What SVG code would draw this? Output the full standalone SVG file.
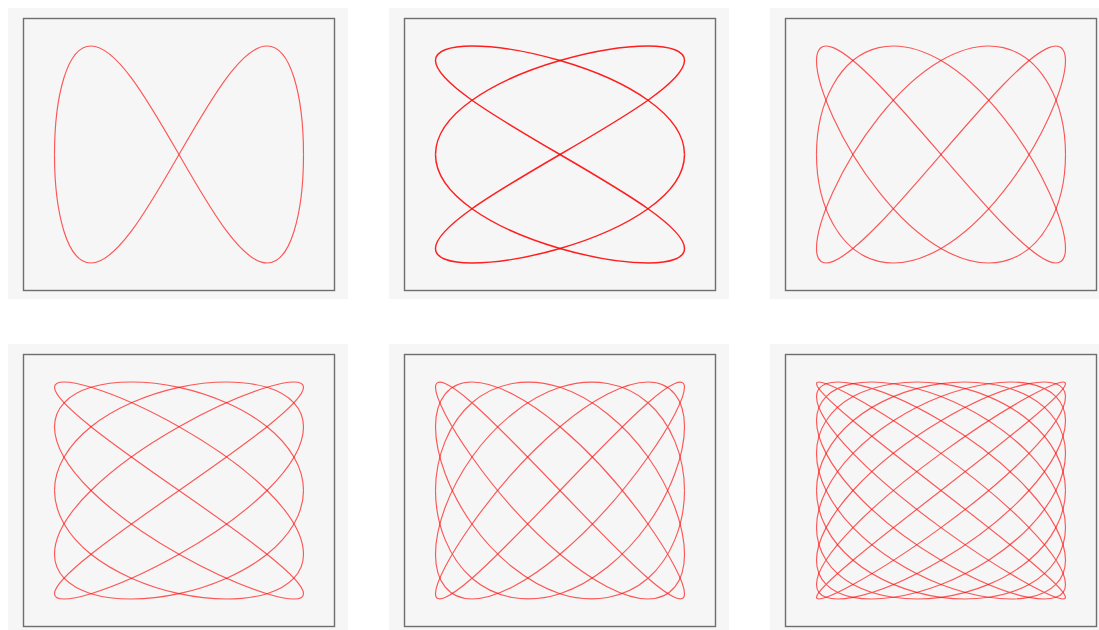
<svg xmlns="http://www.w3.org/2000/svg" xmlns:xlink="http://www.w3.org/1999/xlink" width="1099" height="630" viewBox="0 0 1099 630">
<style>
.bg{fill:#f6f6f6}
.frame{fill:#f6f6f6;stroke:#6e6e6e;stroke-width:1.4}
.curve{fill:none;stroke:#ff0000;stroke-opacity:0.65;stroke-width:1.15;vector-effect:non-scaling-stroke;stroke-linejoin:round}
.curve.thick{stroke-opacity:0.88;stroke-width:1.45}
</style>
<defs>
<path id="c12" class="curve" d="M0,0 C131,262 262,522 383,707 C504,892 615,1000 707,1000 C800,1000 874,892 924,707 C974,522 1000,262 1000,0"/>
<path id="c32" class="curve thick" d="M0,0 C262,175 522,349 707,500 C892,651 1000,779 1000,866 C1000,953 892,1000 707,1000 C522,1000 262,953 0,866 C-262,779 -522,651 -707,500 C-892,349 -1000,175 -1000,0"/>
<path id="c34" class="curve" d="M0,0 C175,233 349,465 500,643 C651,821 779,944 866,985 C953,1025 1000,982 1000,866 C1000,750 953,561 866,342 C779,123 651,-123 500,-342 C349,-561 175,-750 0,-866 C-175,-982 -349,-1025 -500,-985 C-651,-944 -779,-821 -866,-643 C-953,-465 -1000,-233 -1000,0"/>
<path id="c54" class="curve" d="M0,0 C262,209 522,418 707,588 C892,757 1000,886 1000,951 C1000,1016 892,1016 707,951 C522,886 262,757 0,588 C-262,418 -522,209 -707,0 C-892,-209 -1000,-418 -1000,-588 C-1000,-757 -892,-886 -707,-951 C-522,-1016 -262,-1016 0,-951 C262,-886 522,-757 707,-588 C892,-418 1000,-209 1000,0"/>
<path id="c56" class="curve" d="M0,0 C262,314 522,624 707,809 C892,994 1000,1048 1000,951 C1000,854 892,608 707,309 C522,10 262,-334 0,-588 C-262,-842 -522,-1000 -707,-1000 C-892,-1000 -1000,-842 -1000,-588 C-1000,-334 -892,10 -707,309 C-522,608 -262,854 0,951 C262,1048 522,994 707,809 C892,624 1000,314 1000,0"/>
<path id="c98" class="curve" d="M0,0 C262,233 522,465 707,643 C892,821 1000,944 1000,985 C1000,1025 892,982 707,866 C522,750 262,561 0,342 C-262,123 -522,-123 -707,-342 C-892,-561 -1000,-750 -1000,-866 C-1000,-982 -892,-1025 -707,-985 C-522,-944 -262,-821 0,-643 C262,-465 522,-233 707,0 C892,233 1000,465 1000,643 C1000,821 892,944 707,985 C522,1025 262,982 0,866 C-262,750 -522,561 -707,342 C-892,123 -1000,-123 -1000,-342 C-1000,-561 -892,-750 -707,-866 C-522,-982 -262,-1025 0,-985 C262,-944 522,-821 707,-643 C892,-465 1000,-233 1000,0"/>
</defs>

<g id="panel-1-2">
<rect class="bg" x="8" y="8" width="340" height="291"/>
<rect class="frame" x="23.5" y="18.5" width="311" height="272"/>
<g transform="translate(179,154.5) scale(0.1245,0.1085)">
<use xlink:href="#c12"/><use xlink:href="#c12" transform="scale(-1,1)"/><use xlink:href="#c12" transform="scale(1,-1)"/><use xlink:href="#c12" transform="scale(-1,-1)"/>
</g>
</g>

<g id="panel-3-2">
<rect class="bg" x="389" y="8" width="340" height="291"/>
<rect class="frame" x="404.5" y="18.5" width="311" height="272"/>
<g transform="translate(560,154.5) scale(0.1245,0.1085)">
<use xlink:href="#c32"/><use xlink:href="#c32" transform="scale(-1,1)"/><use xlink:href="#c32" transform="scale(1,-1)"/><use xlink:href="#c32" transform="scale(-1,-1)"/>
</g>
</g>

<g id="panel-3-4">
<rect class="bg" x="770" y="8" width="340" height="291"/>
<rect class="frame" x="785.5" y="18.5" width="311" height="272"/>
<g transform="translate(941,154.5) scale(0.1245,0.1085)">
<use xlink:href="#c34"/><use xlink:href="#c34" transform="scale(-1,1)"/><use xlink:href="#c34" transform="scale(1,-1)"/><use xlink:href="#c34" transform="scale(-1,-1)"/>
</g>
</g>

<g id="panel-5-4">
<rect class="bg" x="8" y="344" width="340" height="291"/>
<rect class="frame" x="23.5" y="354.5" width="311" height="272"/>
<g transform="translate(179,490.5) scale(0.1245,0.1085)">
<use xlink:href="#c54"/><use xlink:href="#c54" transform="scale(-1,1)"/><use xlink:href="#c54" transform="scale(1,-1)"/><use xlink:href="#c54" transform="scale(-1,-1)"/>
</g>
</g>

<g id="panel-5-6">
<rect class="bg" x="389" y="344" width="340" height="291"/>
<rect class="frame" x="404.5" y="354.5" width="311" height="272"/>
<g transform="translate(560,490.5) scale(0.1245,0.1085)">
<use xlink:href="#c56"/><use xlink:href="#c56" transform="scale(-1,1)"/><use xlink:href="#c56" transform="scale(1,-1)"/><use xlink:href="#c56" transform="scale(-1,-1)"/>
</g>
</g>

<g id="panel-9-8">
<rect class="bg" x="770" y="344" width="340" height="291"/>
<rect class="frame" x="785.5" y="354.5" width="311" height="272"/>
<g transform="translate(941,490.5) scale(0.1245,0.1085)">
<use xlink:href="#c98"/><use xlink:href="#c98" transform="scale(-1,1)"/><use xlink:href="#c98" transform="scale(1,-1)"/><use xlink:href="#c98" transform="scale(-1,-1)"/>
</g>
</g>
</svg>
